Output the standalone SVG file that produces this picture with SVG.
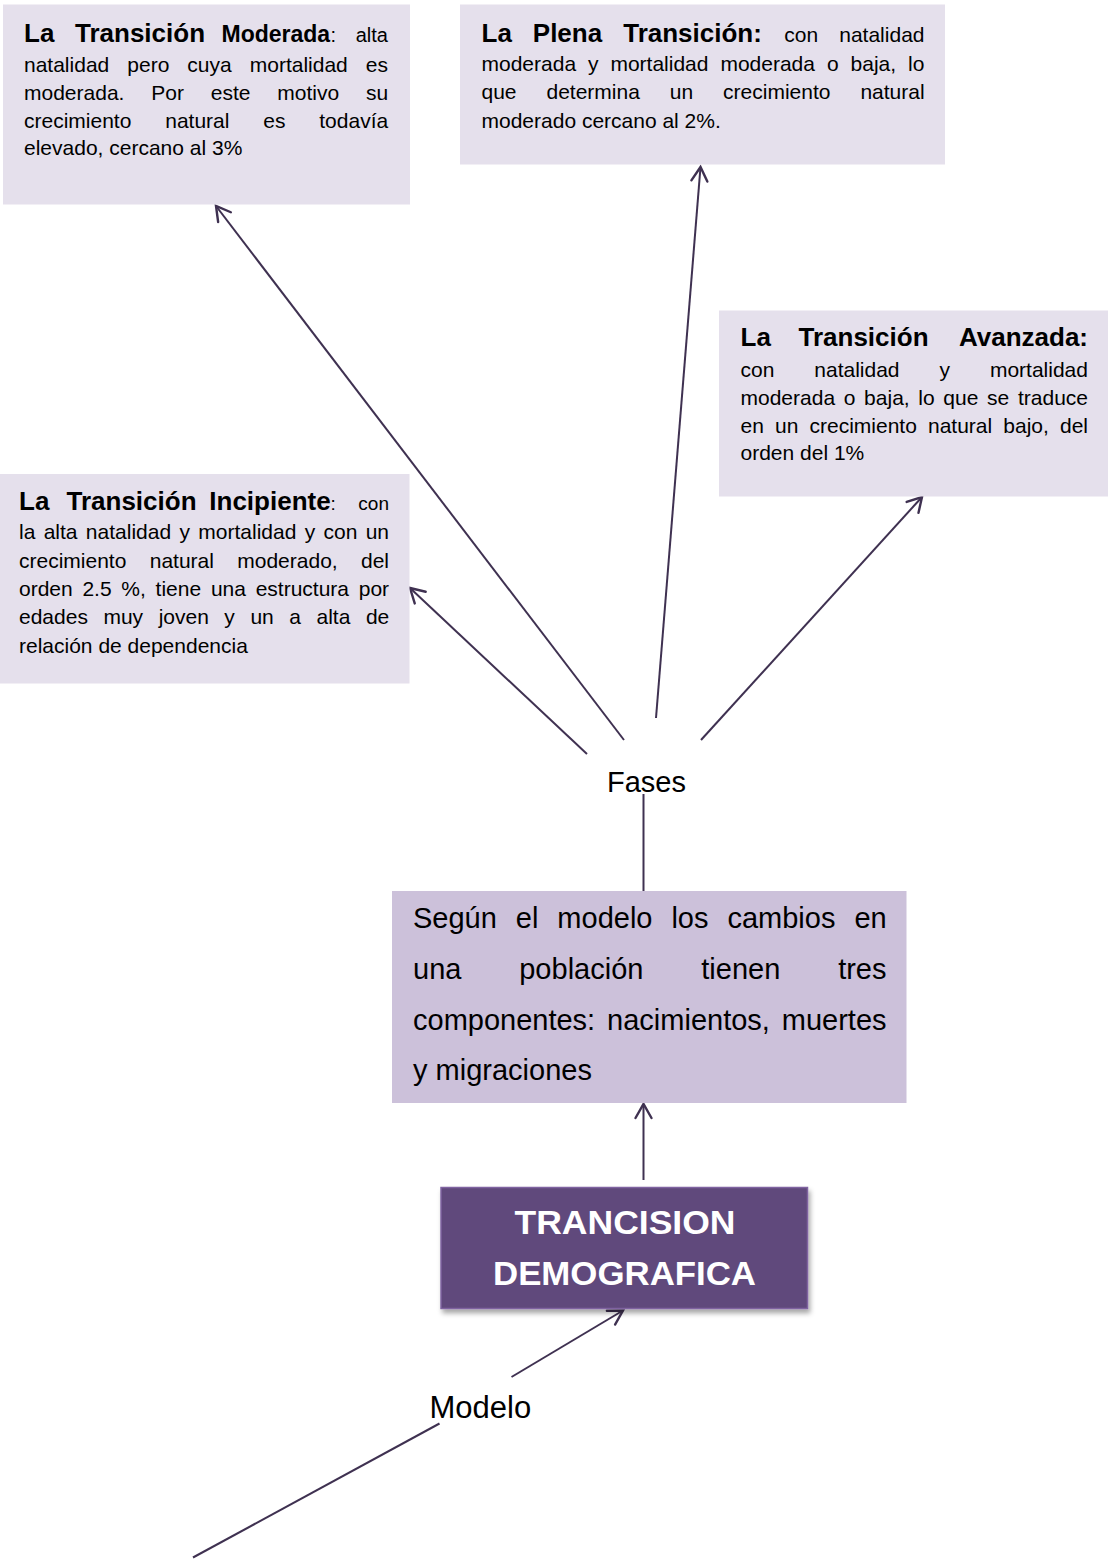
<svg xmlns="http://www.w3.org/2000/svg" width="1108" height="1563" viewBox="0 0 1108 1563">
<style>
text{font-family:"Liberation Sans",Arial,sans-serif;fill:#000}
.b{font-weight:bold;font-size:26px}
.r{font-size:21px}
.big{font-size:29px}
.box{fill:#e5e0ec}
.conn{stroke:#3f3151;stroke-width:2;fill:none}
.w{fill:#fff;font-weight:bold;font-size:33px}
</style>
<defs>
<marker id="ah" markerUnits="userSpaceOnUse" markerWidth="30" markerHeight="30" refX="0" refY="0" viewBox="-20 -15 30 30" orient="auto" overflow="visible">
<path d="M -14 -8 L 0 0 L -14 8" fill="none" stroke="#3f3151" stroke-width="2.4" stroke-linecap="round" stroke-linejoin="miter"/>
</marker>
<filter id="sh" x="-10%" y="-10%" width="125%" height="135%">
<feDropShadow dx="2" dy="4" stdDeviation="2.5" flood-color="#000" flood-opacity="0.35"/>
</filter>
</defs>

<g id="connectors">
<line class="conn" x1="587" y1="754" x2="410" y2="588" marker-end="url(#ah)"/>
<line class="conn" x1="624" y1="740" x2="216" y2="206" marker-end="url(#ah)"/>
<line class="conn" x1="656" y1="718" x2="700.5" y2="167" marker-end="url(#ah)"/>
<line class="conn" x1="701" y1="740" x2="922" y2="497" marker-end="url(#ah)"/>
<line class="conn" x1="643.5" y1="794" x2="643.5" y2="891"/>
<line class="conn" x1="643.5" y1="1180" x2="643.5" y2="1104" marker-end="url(#ah)"/>
<line class="conn" x1="511.5" y1="1377" x2="623" y2="1310.5" marker-end="url(#ah)"/>
<line class="conn" x1="439.5" y1="1423.5" x2="193" y2="1557.5"/>
</g>

<g id="node-moderada">
<rect class="box" x="3" y="4.5" width="407" height="200"/>
<text y="42"><tspan class="b" x="24">La</tspan><tspan class="b" x="75">Transición</tspan><tspan font-weight="bold" font-size="23" x="221.5">Moderada</tspan><tspan font-size="20" x="330.5">:</tspan></text>
<text y="42" font-size="20" text-anchor="end" x="388">alta</text>
<text class="r" x="24" y="71.7" word-spacing="12.2">natalidad pero cuya mortalidad es</text>
<text class="r" x="24" y="99.6" word-spacing="21">moderada. Por este motivo su</text>
<text class="r" x="24" y="127.5" word-spacing="28">crecimiento natural es todavía</text>
<text class="r" x="24" y="155.4">elevado, cercano al 3%</text>
</g>

<g id="node-plena">
<rect class="box" x="460" y="4.5" width="485" height="160"/>
<text y="41.7"><tspan class="b" x="481.5">La</tspan><tspan class="b" x="532.8">Plena</tspan><tspan class="b" x="623.2">Transición:</tspan><tspan class="r" x="784.3">con</tspan></text>
<text class="r" y="41.7" x="924.5" text-anchor="end">natalidad</text>
<text class="r" x="481.5" y="71.4" word-spacing="6.1">moderada y mortalidad moderada o baja, lo</text>
<text class="r" x="481.5" y="99.4" word-spacing="24.1">que determina un crecimiento natural</text>
<text class="r" x="481.5" y="127.6">moderado cercano al 2%.</text>
</g>

<g id="node-avanzada">
<rect class="box" x="719" y="310.5" width="389" height="186"/>
<text class="b" y="345.7"><tspan x="740.5">La</tspan><tspan x="798.5">Transición</tspan></text>
<text class="b" y="345.7" x="1088" text-anchor="end">Avanzada:</text>
<text class="r" x="740.5" y="377.2" word-spacing="34.1">con natalidad y mortalidad</text>
<text class="r" x="740.5" y="404.8" word-spacing="2.85">moderada o baja, lo que se traduce</text>
<text class="r" x="740.5" y="432.6" word-spacing="5.3">en un crecimiento natural bajo, del</text>
<text class="r" x="740.5" y="460.4">orden del 1%</text>
</g>

<g id="node-incipiente">
<rect class="box" x="0" y="474" width="409.5" height="209.5"/>
<text y="509.5"><tspan class="b" x="19">La</tspan><tspan class="b" x="66.5">Transición</tspan><tspan class="b" x="209.3">Incipiente</tspan><tspan font-size="19" x="330.5">:</tspan></text>
<text y="509.5" font-size="19" x="389" text-anchor="end">con</text>
<text class="r" x="19" y="539.4" word-spacing="2.5">la alta natalidad y mortalidad y con un</text>
<text class="r" x="19" y="567.7" word-spacing="17.5">crecimiento natural moderado, del</text>
<text class="r" x="19" y="595.9" word-spacing="3.9">orden 2.5 %, tiene una estructura por</text>
<text class="r" x="19" y="624.2" word-spacing="9.7">edades muy joven y un a alta de</text>
<text class="r" x="19" y="652.6">relación de dependencia</text>
</g>

<g id="node-fases">
<text class="big" x="646.5" y="791.5" text-anchor="middle">Fases</text>
</g>

<g id="node-segun">
<rect x="392" y="891" width="514.5" height="212" fill="#ccc1da"/>
<text class="big" x="413" y="928" word-spacing="10.9">Según el modelo los cambios en</text>
<text class="big" x="413" y="978.5" word-spacing="49.8">una población tienen tres</text>
<text class="big" x="413" y="1029.5" word-spacing="3.85">componentes: nacimientos, muertes</text>
<text class="big" x="413" y="1079.5">y migraciones</text>
</g>

<g id="node-transicion">
<rect x="441" y="1187.5" width="366.5" height="121" fill="#604a7b" stroke="#7f63a1" stroke-width="1.5" filter="url(#sh)"/>
<text class="w" x="625" y="1234.3" text-anchor="middle" textLength="221" lengthAdjust="spacingAndGlyphs">TRANCISION</text>
<text class="w" x="624.5" y="1285.3" text-anchor="middle" textLength="263" lengthAdjust="spacingAndGlyphs">DEMOGRAFICA</text>
</g>

<g id="node-modelo">
<text x="429.5" y="1418" font-size="31">Modelo</text>
</g>
</svg>
